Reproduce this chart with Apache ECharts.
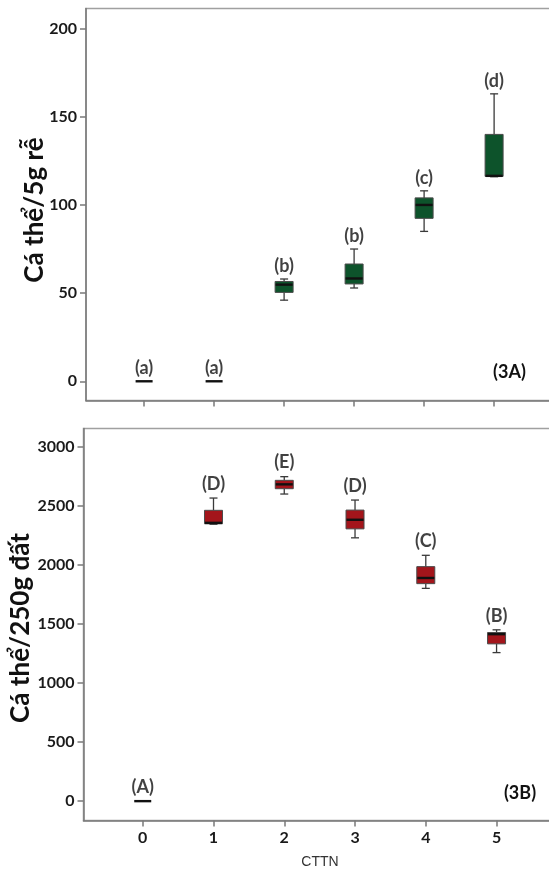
<!DOCTYPE html>
<html>
<head>
<meta charset="utf-8">
<script src="https://cdn.jsdelivr.net/npm/echarts@6/dist/echarts.min.js"></script>
<style>
html,body{margin:0;padding:0;background:#fff;overflow:hidden;width:549px;height:870px;}
#c{width:620px;height:870px;}
</style>
</head>
<body>
<div id="c"></div>
<script>
// ---- data ----
const categories = [0, 1, 2, 3, 4, 5];
// [min, Q1, median, Q3, max]
const rootBoxes = [
  [0, 0, 0, 0, 0],
  [0, 0, 0, 0, 0],
  [46, 50.4, 54.8, 56.6, 58],
  [52.9, 55.2, 58.3, 66.5, 75],
  [85, 92.4, 100, 104, 108],
  [116, 116.2, 116.5, 140, 163]
];
const rootLetters = ['(a)', '(a)', '(b)', '(b)', '(c)', '(d)'];
const soilBoxes = [
  [0, 0, 0, 0, 0],
  [2345, 2349, 2357, 2463, 2567],
  [2601, 2646, 2683, 2717, 2748],
  [2230, 2306, 2383, 2465, 2550],
  [1802, 1842, 1890, 1986, 2082],
  [1258, 1332, 1414, 1428, 1451]
];
const soilLetters = ['(A)', '(D)', '(E)', '(D)', '(C)', '(B)'];
const rootTicks = [0, 50, 100, 150, 200];
const soilTicks = [0, 500, 1000, 1500, 2000, 2500, 3000];
const xTicks = [0, 1, 2, 3, 4, 5];
const rootTitle = 'Cá thể/5g rễ';
const soilTitle = 'Cá thể/250g đất';
const xTitle = 'CTTN';
const panelTags = ['(3A)', '(3B)'];

const FONT = 'Lato, "Open Sans", sans-serif';
const axisColor = '#7a7a7a';

function boxRender(fill) {
  return function (params, api) {
    const x = api.value(0);
    const mn = api.value(1), q1 = api.value(2), md = api.value(3), q3 = api.value(4), mx = api.value(5);
    const pMin = api.coord([x, mn]), pQ1 = api.coord([x, q1]), pMd = api.coord([x, md]);
    const pQ3 = api.coord([x, q3]), pMax = api.coord([x, mx]);
    const cx = pMd[0];
    const bw = 18, cw = 8;
    const ch = [];
    const wStyle = { stroke: '#3a3a3a', lineWidth: 1.3 };
    if (mx > q3) {
      ch.push({ type: 'line', shape: { x1: cx, y1: pMax[1], x2: cx, y2: pQ3[1] }, style: wStyle });
      ch.push({ type: 'line', shape: { x1: cx - cw / 2, y1: pMax[1], x2: cx + cw / 2, y2: pMax[1] }, style: wStyle });
    }
    if (mn < q1) {
      ch.push({ type: 'line', shape: { x1: cx, y1: pQ1[1], x2: cx, y2: pMin[1] }, style: wStyle });
      ch.push({ type: 'line', shape: { x1: cx - cw / 2, y1: pMin[1], x2: cx + cw / 2, y2: pMin[1] }, style: wStyle });
    }
    if (q3 > q1) {
      ch.push({ type: 'rect', shape: { x: cx - bw / 2, y: pQ3[1], width: bw, height: pQ1[1] - pQ3[1] },
        style: { fill: fill, stroke: '#4a4a4a', lineWidth: 1 } });
    }
    ch.push({ type: 'line', shape: { x1: cx - bw / 2 + 0.5, y1: pMd[1], x2: cx + bw / 2 - 0.5, y2: pMd[1] },
      style: { stroke: '#111', lineWidth: 2.4 } });
    return { type: 'group', children: ch };
  };
}

function boxData(arr) {
  return arr.map((b, i) => [categories[i]].concat(b));
}
function labelData(arr) {
  return arr.map((b, i) => [categories[i], b[4]]);
}

const tickLabel = { fontFamily: FONT, fontWeight: 'bold', fontSize: 16, color: '#1a1a1a', formatter: v => String(v) };

const chart = echarts.init(document.getElementById('c'), null, { renderer: 'canvas', width: 620, height: 870 });
chart.setOption({
  animation: false,
  backgroundColor: '#fff',
  grid: [
    { left: 86, top: 8.5, width: 480, height: 392, show: true, borderColor: '#a0a0a0', borderWidth: 1.5, containLabel: false },
    { left: 83.5, top: 428.5, width: 480, height: 392, show: true, borderColor: '#a0a0a0', borderWidth: 1.5, containLabel: false }
  ],
  xAxis: [
    { type: 'value', gridIndex: 0, min: -0.83, max: 6.027,
      axisLine: { show: true, onZero: false, lineStyle: { color: axisColor, width: 1.5 } },
      axisTick: { show: true, inside: false, length: 6, customValues: xTicks, lineStyle: { color: axisColor, width: 1.5 } },
      axisLabel: { show: false, customValues: xTicks },
      splitLine: { show: false } },
    { type: 'value', gridIndex: 1, min: -0.837, max: 5.946,
      axisLine: { show: true, onZero: false, lineStyle: { color: axisColor, width: 1.5 } },
      axisTick: { show: true, inside: false, length: 6, customValues: xTicks, lineStyle: { color: axisColor, width: 1.5 } },
      axisLabel: Object.assign({ show: true, customValues: xTicks, margin: 9 }, tickLabel),
      splitLine: { show: false } }
  ],
  yAxis: [
    { type: 'value', gridIndex: 0, min: -10.9, max: 211.4,
      axisLine: { show: true, onZero: false, lineStyle: { color: axisColor, width: 1.5 } },
      axisTick: { show: true, inside: false, length: 6, customValues: rootTicks, lineStyle: { color: axisColor, width: 1.5 } },
      axisLabel: Object.assign({ show: true, customValues: rootTicks, margin: 9 }, tickLabel),
      splitLine: { show: false } },
    { type: 'value', gridIndex: 1, min: -164, max: 3156,
      axisLine: { show: true, onZero: false, lineStyle: { color: axisColor, width: 1.5 } },
      axisTick: { show: true, inside: false, length: 6, customValues: soilTicks, lineStyle: { color: axisColor, width: 1.5 } },
      axisLabel: Object.assign({ show: true, customValues: soilTicks, margin: 9 }, tickLabel),
      splitLine: { show: false } }
  ],
  series: [
    { type: 'custom', xAxisIndex: 0, yAxisIndex: 0, renderItem: boxRender('#0d532b'),
      encode: { x: 0, y: [1, 2, 3, 4, 5] }, data: boxData(rootBoxes), clip: false },
    { type: 'custom', xAxisIndex: 1, yAxisIndex: 1, renderItem: boxRender('#a3151b'),
      encode: { x: 0, y: [1, 2, 3, 4, 5] }, data: boxData(soilBoxes), clip: false },
    { type: 'scatter', xAxisIndex: 0, yAxisIndex: 0, symbolSize: 0, data: labelData(rootBoxes),
      label: { show: true, position: 'top', distance: 4, formatter: p => rootLetters[p.dataIndex],
        fontFamily: FONT, fontWeight: 'bold', fontSize: 18, color: '#111' } },
    { type: 'scatter', xAxisIndex: 1, yAxisIndex: 1, symbolSize: 0, data: labelData(soilBoxes),
      label: { show: true, position: 'top', distance: 5, formatter: p => soilLetters[p.dataIndex],
        fontFamily: FONT, fontWeight: 'bold', fontSize: 18, color: '#111' } }
  ],
  graphic: [
    { type: 'text', x: 35, y: 210, rotation: Math.PI / 2,
      style: { text: rootTitle, font: 'bold 26px ' + FONT, fill: '#111', align: 'center', verticalAlign: 'middle' } },
    { type: 'text', x: 21, y: 628, rotation: Math.PI / 2,
      style: { text: soilTitle, font: 'bold 26px ' + FONT, fill: '#111', align: 'center', verticalAlign: 'middle' } },
    { type: 'text', x: 320, y: 862,
      style: { text: xTitle, font: '14px "Liberation Sans", Arial, sans-serif', fill: '#333', align: 'center', verticalAlign: 'middle' } },
    { type: 'text', x: 509.5, y: 372,
      style: { text: panelTags[0], font: 'bold 18px ' + FONT, fill: '#111', align: 'center', verticalAlign: 'middle' } },
    { type: 'text', x: 520, y: 793,
      style: { text: panelTags[1], font: 'bold 18px ' + FONT, fill: '#111', align: 'center', verticalAlign: 'middle' } }
  ]
});
</script>
</body>
</html>
